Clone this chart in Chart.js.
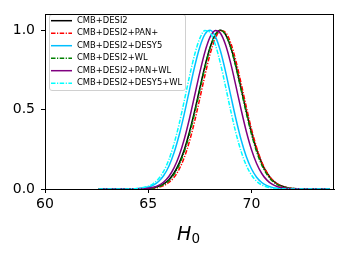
<!DOCTYPE html>
<html>
<head>
<meta charset="utf-8">
<script src="https://cdn.jsdelivr.net/npm/chart.js@4.4.1/dist/chart.umd.min.js"></script>
<style>
  html, body { margin: 0; padding: 0; background: #fff; }
  #wrap { width: 345px; height: 255px; }
</style>
</head>
<body>
<div id="wrap"><canvas id="h0Chart" width="345" height="255"></canvas></div>
<script>
// H0 grid (x) shared by all posteriors
const h0Grid = [62.6, 63, 63.5, 64, 64.5,
  65, 65.25, 65.5, 65.75, 66, 66.25, 66.5, 66.75, 67, 67.25, 67.5, 67.75,
  68, 68.25, 68.5, 68.75, 69, 69.25, 69.5, 69.75, 70, 70.25, 70.5, 70.75,
  71, 71.25, 71.5, 71.75, 72,
  72.5, 73, 73.5, 73.8];

// normalised posteriors
const cmbDesi = [0, 0, 0, 0.0001, 0.0007,
  0.0039, 0.0083, 0.0169, 0.0324, 0.0587, 0.1007, 0.163, 0.249, 0.361, 0.492, 0.635, 0.775,
  0.893, 0.972, 1, 0.972, 0.893, 0.775, 0.635, 0.492, 0.361, 0.249, 0.163, 0.1007,
  0.0587, 0.0324, 0.0169, 0.0083, 0.0039,
  0.0007, 0.0001, 0, 0];
const cmbDesiPan = [0, 0, 0, 0, 0.0003,
  0.0021, 0.0048, 0.0105, 0.0213, 0.0408, 0.0736, 0.125, 0.2, 0.301, 0.427, 0.571, 0.718,
  0.851, 0.949, 0.997, 0.986, 0.919, 0.806, 0.666, 0.518, 0.379, 0.262, 0.17, 0.104,
  0.0599, 0.0325, 0.0166, 0.008, 0.0036,
  0.0006, 0.0001, 0, 0];
const cmbDesiDesy5 = [0, 0, 0, 0.0004, 0.0024,
  0.0122, 0.0247, 0.0474, 0.0851, 0.1437, 0.228, 0.34, 0.475, 0.625, 0.772, 0.895, 0.976,
  1, 0.962, 0.869, 0.738, 0.588, 0.441, 0.31, 0.205, 0.1275, 0.0743, 0.0408, 0.021,
  0.0102, 0.0046, 0.002, 0.0008, 0.0003,
  0, 0, 0, 0];
const cmbDesiWl = [0, 0, 0, 0.0001, 0.0005,
  0.0031, 0.0069, 0.0144, 0.0283, 0.0525, 0.092, 0.152, 0.236, 0.346, 0.479, 0.624, 0.767,
  0.889, 0.971, 1, 0.971, 0.889, 0.767, 0.624, 0.479, 0.346, 0.236, 0.152, 0.092,
  0.0525, 0.0283, 0.0144, 0.0069, 0.0031,
  0.0005, 0.0001, 0, 0];
const cmbDesiPanWl = [0, 0, 0, 0.0001, 0.001,
  0.0053, 0.0114, 0.0231, 0.0439, 0.0787, 0.1327, 0.211, 0.315, 0.444, 0.589, 0.735, 0.865,
  0.958, 0.999, 0.981, 0.907, 0.79, 0.648, 0.501, 0.364, 0.249, 0.161, 0.0977, 0.0558,
  0.0301, 0.0153, 0.0073, 0.0033, 0.0014,
  0.0002, 0, 0, 0];
const cmbDesiDesy5Wl = [0, 0, 0.0001, 0.0006, 0.0036,
  0.0173, 0.0344, 0.0642, 0.1124, 0.1845, 0.2845, 0.411, 0.558, 0.71, 0.847, 0.949, 0.998,
  0.984, 0.91, 0.79, 0.643, 0.491, 0.352, 0.237, 0.1496, 0.0886, 0.0491, 0.0256, 0.0125,
  0.0057, 0.0025, 0.001, 0.0004, 0.0001,
  0, 0, 0, 0];

const seriesLabels = ['CMB+DESI2', 'CMB+DESI2+PAN+', 'CMB+DESI2+DESY5',
  'CMB+DESI2+WL', 'CMB+DESI2+PAN+WL', 'CMB+DESI2+DESY5+WL'];
const xTicks = [60, 65, 70];
const yTicks = [0, 0.5, 1.0];

const dashDot = [4.5, 1.5, 1.2, 1.5];

function makeSet(label, values, color, dash, order) {
    return {
        label: label,
        data: h0Grid.map((x, i) => ({ x: x, y: values[i] })),
        borderColor: color,
        borderWidth: 1.5,
        borderDash: dash,
        pointRadius: 0,
        fill: false,
        cubicInterpolationMode: 'monotone',
        order: order
    };
}

// legend box drawn inside the plot, top left
const legendBox = {
    id: 'legendBox',
    afterDraw(chart) {
        const ctx = chart.ctx;
        ctx.save();
        const x = 49.5, y = 14.5, w = 136, h = 76, r = 2.5;
        ctx.beginPath();
        ctx.roundRect(x, y, w, h, r);
        ctx.fillStyle = 'rgba(255,255,255,0.8)';
        ctx.fill();
        ctx.strokeStyle = '#d0d0d0';
        ctx.lineWidth = 1;
        ctx.stroke();

        ctx.font = '8.4px "DejaVu Sans"';
        ctx.textBaseline = 'middle';
        chart.data.datasets.forEach((ds, i) => {
            const yy = 20.7 + i * 12.5;
            ctx.beginPath();
            ctx.setLineDash(ds.borderDash);
            ctx.strokeStyle = ds.borderColor;
            ctx.lineWidth = ds.borderWidth;
            ctx.moveTo(51, yy);
            ctx.lineTo(72, yy);
            ctx.stroke();
            ctx.setLineDash([]);
            ctx.fillStyle = '#000';
            ctx.fillText(ds.label, 77, yy);
        });
        ctx.restore();
    }
};

// frame + H0 label
const frameAndTitle = {
    id: 'frameAndTitle',
    afterDraw(chart) {
        const ctx = chart.ctx;
        const a = chart.chartArea;
        ctx.save();
        ctx.strokeStyle = '#000';
        ctx.lineWidth = 1;
        ctx.strokeRect(Math.round(a.left) + 0.5, Math.round(a.top) + 0.5,
            Math.round(a.right - a.left) - 1, Math.round(a.bottom - a.top));
        ctx.fillStyle = '#000';
        ctx.textBaseline = 'alphabetic';
        ctx.font = 'italic 19px "DejaVu Sans"';
        ctx.fillText('H', 177, 240);
        ctx.font = '13.5px "DejaVu Sans"';
        ctx.fillText('0', 191.5, 243);
        ctx.restore();
    }
};

const ctx = document.getElementById('h0Chart').getContext('2d');
new Chart(ctx, {
    type: 'line',
    data: {
        datasets: [
            makeSet(seriesLabels[0], cmbDesi, '#000000', [], 5),
            makeSet(seriesLabels[1], cmbDesiPan, '#ff0000', dashDot, 4),
            makeSet(seriesLabels[2], cmbDesiDesy5, '#00bfff', [], 3),
            makeSet(seriesLabels[3], cmbDesiWl, '#008000', dashDot, 2),
            makeSet(seriesLabels[4], cmbDesiPanWl, '#800080', [], 1),
            makeSet(seriesLabels[5], cmbDesiDesy5Wl, '#00ffff', dashDot, 0)
        ]
    },
    options: {
        responsive: false,
        devicePixelRatio: 1,
        animation: false,
        layout: { padding: { left: 0, right: 11, top: 10, bottom: 0 } },
        scales: {
            x: {
                type: 'linear',
                min: 60,
                max: 74,
                afterBuildTicks: (s) => { s.ticks = xTicks.map(v => ({ value: v })); },
                afterFit: (s) => { s.height = 66; },
                grid: { drawOnChartArea: false, drawTicks: true, tickLength: 4, color: '#000' },
                border: { display: true, color: '#000', width: 1 },
                ticks: {
                    color: '#000',
                    padding: 3,
                    maxRotation: 0,
                    font: { family: 'DejaVu Sans', size: 14 },
                    callback: (v) => String(v)
                }
            },
            y: {
                min: 0,
                max: 1.1,
                afterBuildTicks: (s) => { s.ticks = yTicks.map(v => ({ value: v })); },
                afterFit: (s) => { s.width = 45; },
                grid: { drawOnChartArea: false, drawTicks: true, tickLength: 4, color: '#000' },
                border: { display: true, color: '#000', width: 1 },
                ticks: {
                    color: '#000',
                    padding: 6,
                    font: { family: 'DejaVu Sans', size: 14 },
                    callback: (v) => v.toFixed(1)
                }
            }
        },
        plugins: {
            legend: { display: false },
            tooltip: { enabled: false }
        }
    },
    plugins: [legendBox, frameAndTitle]
});
</script>
</body>
</html>
